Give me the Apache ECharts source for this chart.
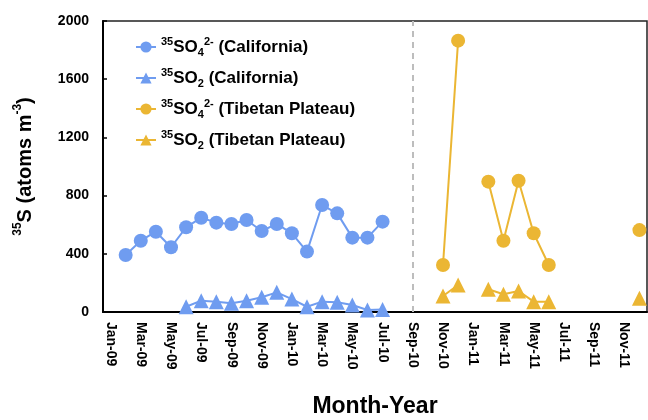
<!DOCTYPE html>
<html>
<head>
<meta charset="utf-8">
<script src="https://cdn.jsdelivr.net/npm/echarts@6/dist/echarts.min.js"></script>
<style>
  html, body { margin: 0; padding: 0; background: #fff; }
  #chart { width: 648px; height: 420px; }
</style>
</head>
<body>
<div id="chart"></div>
<script>
const months = ['Jan-09', 'Feb-09', 'Mar-09', 'Apr-09', 'May-09', 'Jun-09', 'Jul-09', 'Aug-09', 'Sep-09', 'Oct-09', 'Nov-09', 'Dec-09',
  'Jan-10', 'Feb-10', 'Mar-10', 'Apr-10', 'May-10', 'Jun-10', 'Jul-10', 'Aug-10', 'Sep-10', 'Oct-10', 'Nov-10', 'Dec-10',
  'Jan-11', 'Feb-11', 'Mar-11', 'Apr-11', 'May-11', 'Jun-11', 'Jul-11', 'Aug-11', 'Sep-11', 'Oct-11', 'Nov-11', 'Dec-11']

const yTicks = [0, 400, 800, 1200, 1600, 2000]

// California: Feb-09 .. Jul-10
const calSO4 = [null, 392, 490, 552, 445, 582, 648, 614, 605, 632, 557, 605,
  541, 415, 735, 678, 511, 511, 621, null, null, null, null, null,
  null, null, null, null, null, null, null, null, null, null, null, null]
const calSO2 = [null, null, null, null, null, 36, 78, 71, 60, 78, 101, 135,
  89, 36, 71, 67, 48, 14, 18, null, null, null, null, null,
  null, null, null, null, null, null, null, null, null, null, null, null]

// Tibetan Plateau
const tibSO4 = [null, null, null, null, null, null, null, null, null, null, null, null,
  null, null, null, null, null, null, null, null, null, null, 323, 1865,
  null, 896, 490, 902, 541, 323, null, null, null, null, null, 563]
const tibSO2 = [null, null, null, null, null, null, null, null, null, null, null, null,
  null, null, null, null, null, null, null, null, null, null, 110, 186,
  null, 156, 122, 144, 71, 71, null, null, null, null, null, 94]

const dividerMonth = 'Sep-10'

const blue = '#6f9cf0'
const gold = '#ebb633'
const font = 'Liberation Sans, Arial, sans-serif'

const legendNames = {
  calSO4: '{sup|35}{b|SO}{sub|4}{sup|2-}{b| (California)}',
  calSO2: '{sup|35}{b|SO}{sub|2}{b| (California)}',
  tibSO4: '{sup|35}{b|SO}{sub|4}{sup|2-}{b| (Tibetan Plateau)}',
  tibSO2: '{sup|35}{b|SO}{sub|2}{b| (Tibetan Plateau)}'
}

const chart = echarts.init(document.getElementById('chart'))

const makeSeries = (key, data, color, symbol) => ({
  name: key,
  type: 'line',
  data: data,
  symbol: symbol,
  symbolSize: symbol === 'circle' ? 14 : 15,
  showSymbol: true,
  showAllSymbol: true,
  connectNulls: false,
  lineStyle: { color: color, width: 2 },
  itemStyle: { color: color },
  z: 3
})

const series = [
  makeSeries('calSO4', calSO4, blue, 'circle'),
  makeSeries('calSO2', calSO2, blue, 'triangle'),
  makeSeries('tibSO4', tibSO4, gold, 'circle'),
  makeSeries('tibSO2', tibSO2, gold, 'triangle')
]

// dashed separator between the two sites
series[0].markLine = {
  silent: true,
  symbol: 'none',
  label: { show: false },
  lineStyle: { color: '#bdbdbd', type: [6, 5], width: 2 },
  data: [{ xAxis: dividerMonth }]
}

const option = {
  animation: false,
  textStyle: { fontFamily: font },
  grid: {
    left: 103,
    right: 1,
    top: 21,
    bottom: 108,
    outerBoundsMode: 'none',
    show: true,
    borderColor: '#222',
    borderWidth: 1.5
  },
  legend: {
    orient: 'vertical',
    left: 130,
    top: 31,
    itemWidth: 20,
    itemHeight: 14,
    itemGap: 9,
    formatter: name => legendNames[name],
    textStyle: {
      rich: {
        b: { fontSize: 17, fontWeight: 'bold', color: '#000', fontFamily: font, lineHeight: 22 },
        sup: { fontSize: 11, fontWeight: 'bold', color: '#000', fontFamily: font, verticalAlign: 'top', lineHeight: 22 },
        sub: { fontSize: 11, fontWeight: 'bold', color: '#000', fontFamily: font, verticalAlign: 'bottom', lineHeight: 22 }
      }
    }
  },
  xAxis: {
    type: 'category',
    data: months,
    boundaryGap: true,
    name: 'Month-Year',
    nameLocation: 'middle',
    nameGap: 83,
    nameTextStyle: { fontSize: 23, fontWeight: 'bold', color: '#000', fontFamily: font },
    axisLine: { lineStyle: { color: '#000', width: 2 } },
    axisTick: { inside: true, length: 4, interval: 0, alignWithLabel: true, lineStyle: { color: '#000', width: 1.5 } },
    axisLabel: {
      interval: 1,
      rotate: -90,
      margin: 10,
      fontSize: 14,
      fontWeight: 'bold',
      color: '#000'
    },
    splitLine: { show: false }
  },
  yAxis: {
    type: 'value',
    min: yTicks[0],
    max: yTicks[yTicks.length - 1],
    interval: yTicks[1] - yTicks[0],
    name: '{sup|35}{b|S (atoms m}{sup|-3}{b|)}',
    nameLocation: 'middle',
    nameGap: 65,
    nameRotate: 90,
    nameTextStyle: {
      rich: {
        b: { fontSize: 20, fontWeight: 'bold', color: '#000', fontFamily: font, lineHeight: 26 },
        sup: { fontSize: 12, fontWeight: 'bold', color: '#000', fontFamily: font, verticalAlign: 'top', lineHeight: 26 }
      }
    },
    axisLine: { show: true, lineStyle: { color: '#000', width: 2 } },
    axisTick: { show: true, inside: true, length: 4, lineStyle: { color: '#000', width: 1.5 } },
    axisLabel: { fontSize: 14, fontWeight: 'bold', color: '#000', margin: 14, formatter: v => String(v) },
    splitLine: { show: false }
  },
  series: series
}

chart.setOption(option)
</script>
</body>
</html>
